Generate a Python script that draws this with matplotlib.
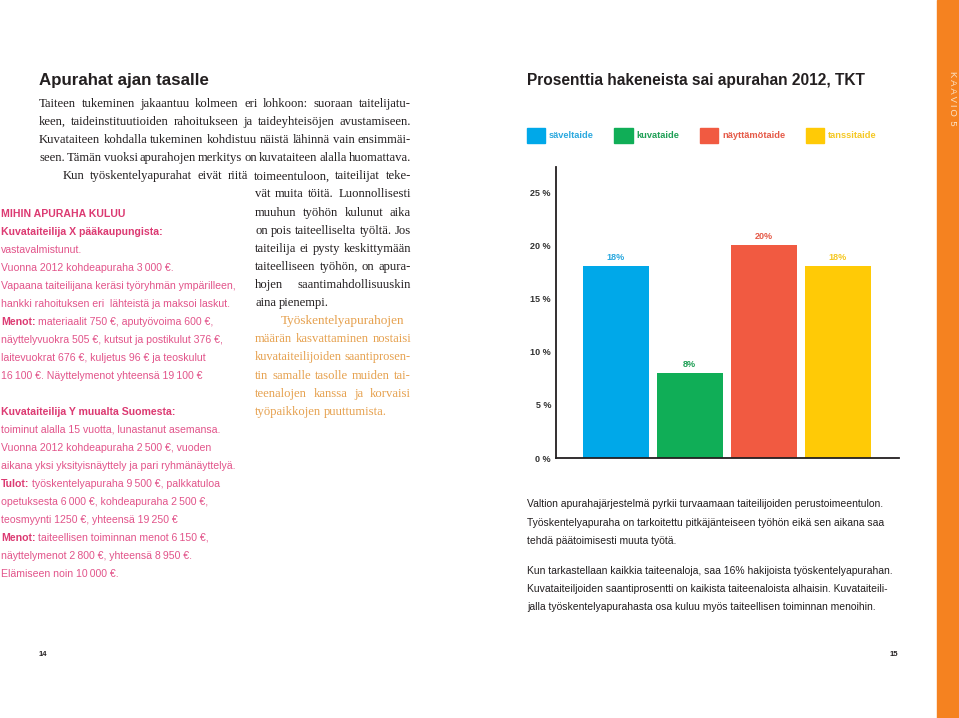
import matplotlib
matplotlib.use('Agg')
import matplotlib.pyplot as plt
from matplotlib.patches import Patch, Rectangle
from matplotlib.transforms import Affine2D

W, H = 959, 718

# chart data
categories = ['säveltaide', 'kuvataide', 'näyttämötaide', 'tanssitaide']
values = [18, 8, 20, 18]
value_labels = ['18%', '8%', '20%', '18%']
bar_colors = ['#00A8E9', '#10AE57', '#F15A41', '#FFCA06']
label_colors = ['#2AA8DE', '#1E9F55', '#E55A48', '#F5C823']
yticks = [0, 5, 10, 15, 20, 25]
ytick_labels = ['0 %', '5 %', '10 %', '15 %', '20 %', '25 %']

# page text
intro_lines = [
    'Taiteen tukeminen jakaantuu kolmeen eri lohkoon: suoraan taitelijatu-',
    'keen, taideinstituutioiden rahoitukseen ja taideyhteisöjen avustamiseen.',
    'Kuvataiteen kohdalla tukeminen kohdistuu näistä lähinnä vain ensimmäi-',
    'seen. Tämän vuoksi apurahojen merkitys on kuvataiteen alalla huomattava.',
]
indent_line = 'Kun työskentelyapurahat eivät riitä toimeentuloon, taiteilijat teke-'
column_lines = [
    'vät muita töitä. Luonnollisesti',
    'muuhun työhön kulunut aika',
    'on pois taiteelliselta työltä. Jos',
    'taiteilija ei pysty keskittymään',
    'taiteelliseen työhön, on apura-',
    'hojen saantimahdollisuuskin',
    'aina pienempi.',
]
orange_lines = [
    'Työskentelyapurahojen',
    'määrän kasvattaminen nostaisi',
    'kuvataiteilijoiden saantiprosen-',
    'tin samalle tasolle muiden tai-',
    'teenalojen kanssa ja korvaisi',
    'työpaikkojen puuttumista.',
]
pink_lines = [
    ('MIHIN APURAHA KULUU', ''),
    ('Kuvataiteilija X pääkaupungista:', ''),
    ('', 'vastavalmistunut.'),
    ('', 'Vuonna 2012 kohdeapuraha 3\u2009000 €.'),
    ('', 'Vapaana taiteilijana keräsi työryhmän ympärilleen,'),
    ('', 'hankki rahoituksen eri  lähteistä ja maksoi laskut.'),
    ('Menot:', 'materiaalit 750 €, aputyövoima 600 €,'),
    ('', 'näyttelyvuokra 505 €, kutsut ja postikulut 376 €,'),
    ('', 'laitevuokrat 676 €, kuljetus 96 € ja teoskulut'),
    ('', '16\u2009100 €. Näyttelymenot yhteensä 19\u2009100 €'),
    ('', ''),
    ('Kuvataiteilija Y muualta Suomesta:', ''),
    ('', 'toiminut alalla 15 vuotta, lunastanut asemansa.'),
    ('', 'Vuonna 2012 kohdeapuraha 2\u2009500 €, vuoden'),
    ('', 'aikana yksi yksityisnäyttely ja pari ryhmänäyttelyä.'),
    ('Tulot:', 'työskentelyapuraha 9\u2009500 €, palkkatuloa'),
    ('', 'opetuksesta 6\u2009000 €, kohdeapuraha 2\u2009500 €,'),
    ('', 'teosmyynti 1250 €, yhteensä 19\u2009250 €'),
    ('Menot:', 'taiteellisen toiminnan menot 6\u2009150 €,'),
    ('', 'näyttelymenot 2\u2009800 €, yhteensä 8\u2009950 €.'),
    ('', 'Elämiseen noin 10\u2009000 €.'),
]
notes_a = [
    'Valtion apurahajärjestelmä pyrkii turvaamaan taiteilijoiden perustoimeentulon.',
    'Työskentelyapuraha on tarkoitettu pitkäjänteiseen työhön eikä sen aikana saa',
    'tehdä päätoimisesti muuta työtä.',
]
notes_b = [
    'Kun tarkastellaan kaikkia taiteenaloja, saa 16% hakijoista työskentelyapurahan.',
    'Kuvataiteiljoiden saantiprosentti on kaikista taiteenaloista alhaisin. Kuvataiteili-',
    'jalla työskentelyapurahasta osa kuluu myös taiteellisen toiminnan menoihin.',
]

SANS = ['Liberation Sans', 'DejaVu Sans']
SERIF = ['Liberation Serif', 'DejaVu Serif']
DARK = '#231F20'
PINK_B = '#DC3A72'
PINK = '#E2548A'
ORANGE_TXT = '#E6A14F'

fig = plt.figure(figsize=(W / 100, H / 100), dpi=100)
# pixel coordinates measured from the top-left corner
px = Affine2D().scale(1 / W, -1 / H).translate(0, 1) + fig.transFigure
renderer = fig.canvas.get_renderer()


def words_line(x0, y, line, x1=None, size=9.1, **kw):
    # one line word by word, stretched (or squeezed a little) to end at x1 when given
    words = line.split(' ')
    texts = [fig.text(0, y, w, transform=px, va='baseline', fontsize=size, **kw)
             for w in words]
    widths = [t.get_window_extent(renderer).width if w else 0 for t, w in zip(texts, words)]
    gap = size * 100 / 72 * 0.25
    if x1 is not None and len(words) > 1:
        room = x1 - x0 - gap * 0.7 * (len(words) - 1)
        if sum(widths) > room:
            k = room / sum(widths)
            for t in texts:
                t.set_fontsize(size * k)
            widths = [w * k for w in widths]
        gap = (x1 - x0 - sum(widths)) / (len(words) - 1)
    x = x0
    for t, w in zip(texts, widths):
        t.set_x(x)
        x += w + gap


serif_kw = dict(family=SERIF, color=DARK)
step = 18.12
y = 103.3 + 3.5
for line in intro_lines:
    words_line(39, y, line, 411, **serif_kw)
    y += step
words_line(63, y, indent_line, 411, **serif_kw)
y += step
for i, line in enumerate(column_lines):
    words_line(255, y, line, 411 if i < len(column_lines) - 1 else None, **serif_kw)
    y += step
orange_kw = dict(serif_kw, color=ORANGE_TXT)
for i, line in enumerate(orange_lines):
    if i == 0:
        words_line(281, y, line, size=9.5, **orange_kw)
    elif i < len(orange_lines) - 1:
        words_line(255, y, line, 411, **orange_kw)
    else:
        words_line(255, y, line, **orange_kw)
    y += step

# pink column
y = 214 + 3
for bold, rest in pink_lines:
    x = 1
    if bold:
        t = fig.text(x, y, bold, transform=px, va='baseline', family=SANS,
                     fontsize=7.6, fontweight='bold', color=PINK_B)
        x += t.get_window_extent(renderer).width + 3
    if rest:
        fig.text(x, y, rest, transform=px, va='baseline', family=SANS,
                 fontsize=7.6, color=PINK)
    y += 18

for start, block in ((504.3, notes_a), (571, notes_b)):
    for i, line in enumerate(block):
        fig.text(527, start + 3 + i * 18.2, line, transform=px, va='baseline',
                 family=SANS, fontsize=7.5, color=DARK)

# titles
fig.text(39, 80.5, 'Apurahat ajan tasalle', transform=px, va='center',
         family=SANS, fontsize=12.2, fontweight='bold', color=DARK)
fig.text(527, 80.7, 'Prosenttia hakeneista sai apurahan 2012, TKT', transform=px,
         va='center', family=SANS, fontsize=11.2, fontweight='bold', color=DARK)

# page numbers
fig.text(43, 654, '14', transform=px, ha='center', va='center', family=SANS,
         fontsize=5.5, fontweight='bold', color=DARK)
fig.text(894, 654, '15', transform=px, ha='center', va='center', family=SANS,
         fontsize=5.5, fontweight='bold', color=DARK)

# orange edge band
fig.patches.append(Rectangle((937, 0), 22, H, transform=px, color='#F58220', zorder=0))
fig.text(953, 98, 'K\u2009A\u2009A\u2009V\u2009I\u2009O\u2009 5', transform=px, rotation=-90,
         ha='center', va='center', family=SANS, fontsize=6.8, color='#FDE3C6')

# bar chart
ax = fig.add_axes([556 / W, 1 - 458 / H, (899 - 556) / W, (458 - 167) / H])
xs = range(len(values))
ax.bar(xs, values, width=66 / 74, color=bar_colors)
ax.set_xlim(-(615.7 - 556) / 74, (899 - 615.7) / 74)
ax.set_ylim(0, (458 - 167) / 10.64)
for i, (v, lbl, c) in enumerate(zip(values, value_labels, label_colors)):
    ax.annotate(lbl, (i, v), xytext=(0, 3), textcoords='offset points', ha='center',
                va='bottom', color=c, fontsize=6.5, fontweight='bold', family=SANS)
for side in ('top', 'right'):
    ax.spines[side].set_visible(False)
for side in ('left', 'bottom'):
    ax.spines[side].set_linewidth(1.3)
    ax.spines[side].set_color(DARK)
ax.set_xticks([])
ax.set_yticks(yticks)
ax.set_yticklabels(ytick_labels, fontsize=6.5, fontweight='bold', family=SANS, color='#333333')
ax.tick_params(axis='y', length=0, pad=3.6)

leg = fig.legend([Patch(color=c) for c in bar_colors], categories, loc='upper left',
                 bbox_to_anchor=(526.7 / W, 1 - 128 / H), ncol=4, frameon=False,
                 prop={'family': SANS, 'size': 6.7, 'weight': 'bold'},
                 handlelength=1.95, handleheight=2.05, handletextpad=0.45,
                 columnspacing=2.2, borderpad=0, borderaxespad=0)
for t, c in zip(leg.get_texts(), label_colors):
    t.set_color(c)

fig.savefig('out.png', dpi=100)
